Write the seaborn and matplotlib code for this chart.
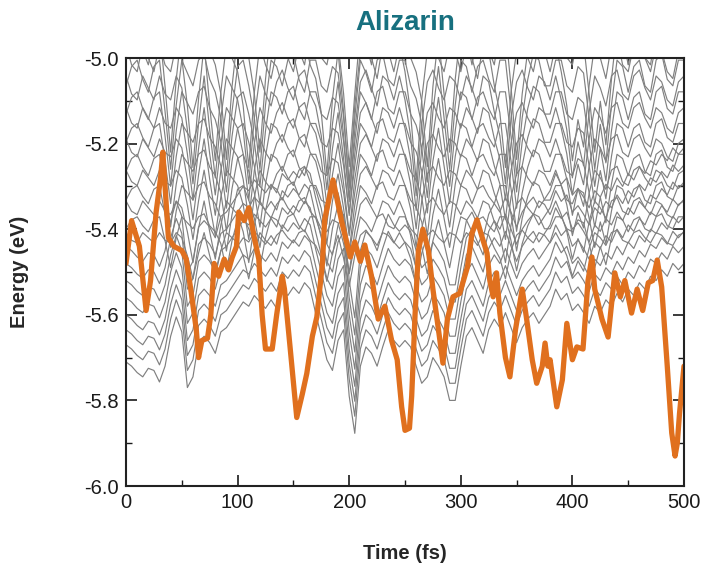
import numpy as np
import pandas as pd
import seaborn as sns
import matplotlib
matplotlib.use("Agg")
import matplotlib.pyplot as plt
from matplotlib.ticker import MultipleLocator, FormatStrFormatter

# lowest gray state, read every 5 fs
t_grid = np.arange(0, 505, 5)
low_state = [-5.71, -5.72, -5.735, -5.745, -5.725, -5.73, -5.757, -5.72, -5.65, -5.605,
             -5.64, -5.77, -5.745, -5.665, -5.65, -5.665, -5.69, -5.64, -5.63, -5.61,
             -5.59, -5.57, -5.58, -5.555, -5.57, -5.585, -5.565, -5.585, -5.54, -5.555,
             -5.535, -5.55, -5.525, -5.54, -5.597, -5.65, -5.705, -5.73, -5.66, -5.635,
             -5.79, -5.877, -5.72, -5.675, -5.69, -5.72, -5.675, -5.635, -5.66, -5.675,
             -5.66, -5.675, -5.72, -5.76, -5.745, -5.70, -5.72, -5.745, -5.80, -5.80,
             -5.72, -5.65, -5.63, -5.66, -5.69, -5.635, -5.61, -5.63, -5.595, -5.63,
             -5.665, -5.63, -5.61, -5.595, -5.62, -5.60, -5.58, -5.54, -5.565, -5.55,
             -5.59, -5.575, -5.595, -5.62, -5.58, -5.595, -5.565, -5.58, -5.55, -5.57,
             -5.54, -5.555, -5.525, -5.54, -5.51, -5.52, -5.495, -5.51, -5.48, -5.495,
             -5.48]
low_offsets = [0.0, 0.04, 0.075, 0.11, 0.15, 0.19, 0.23, 0.27]

# upper states: two shapes read every 5 fs (deviation from level)
high_a = [0.02, -0.01, -0.02, 0.02, 0.0, -0.02, 0.02, -0.01, -0.02, 0.02,
          0.0, -0.07, -0.16, -0.06, 0.02, -0.07, -0.15, -0.05, 0.02, 0.0,
          -0.02, -0.07, -0.16, -0.05, 0.02, -0.01, -0.03, 0.01, 0.03, 0.0,
          -0.02, 0.02, 0.03, -0.01, -0.03, -0.08, -0.17, -0.06, 0.01, -0.08,
          -0.19, -0.07, 0.01, 0.03, 0.0, -0.03, 0.02, 0.01, -0.02, 0.02,
          -0.02, -0.08, -0.18, -0.06, 0.01, 0.03, 0.0, -0.02, 0.02, 0.01,
          -0.02, 0.02, 0.0, -0.03, 0.02, 0.01, -0.04, -0.08, -0.16, -0.05,
          0.01, 0.03, 0.0, -0.02, 0.02, 0.01, -0.02, 0.02, -0.02, -0.07,
          -0.15, -0.09, -0.13, -0.04, 0.02, 0.0, -0.03, 0.02, 0.03, -0.01,
          -0.02, 0.02, 0.03, 0.0, -0.02, 0.02, 0.01, -0.02, -0.03, 0.01,
          0.02]
high_b = [-0.02, 0.01, 0.02, -0.01, -0.03, 0.01, 0.02, -0.06, -0.15, -0.05,
          0.02, 0.0, -0.02, 0.02, 0.03, -0.01, -0.03, -0.07, -0.16, -0.06,
          0.01, 0.02, -0.02, -0.07, -0.15, -0.05, 0.02, 0.01, -0.02, 0.02,
          0.03, -0.01, -0.03, 0.02, 0.02, -0.02, -0.03, 0.01, 0.0, -0.07,
          -0.17, -0.07, 0.02, 0.0, -0.03, 0.02, 0.03, -0.01, -0.02, 0.02,
          0.02, -0.02, -0.04, -0.08, -0.17, -0.06, 0.01, -0.07, -0.15, -0.05,
          0.02, 0.01, -0.03, 0.01, 0.02, -0.01, -0.03, 0.02, 0.02, -0.06,
          -0.16, -0.07, -0.01, 0.03, 0.02, -0.02, -0.02, 0.02, 0.02, -0.02,
          -0.03, 0.01, 0.0, -0.07, -0.15, -0.08, -0.14, -0.05, 0.02, 0.01,
          -0.03, 0.01, 0.02, -0.02, -0.03, 0.02, 0.03, -0.01, -0.02, 0.02,
          0.02]
high_levels = [-5.42, -5.385, -5.35, -5.315, -5.28, -5.245, -5.21, -5.175,
               -5.14, -5.105, -5.07, -5.035, -5.00, -4.965]
high_amps = [0.6, 0.7, 0.8, 0.85, 0.9, 1.0, 1.05, 1.1, 1.2, 1.3, 1.4, 1.5, 1.6, 1.7]

# orange (photoexcited) state
orange_t = [0, 1, 5, 12, 18, 22, 27, 31, 33, 38, 43, 50, 54, 58, 63, 65, 68, 73, 76, 79,
            83, 88, 92, 95, 99, 101, 106, 110, 115, 119, 122, 125, 131, 135, 140, 142, 147, 153, 158, 162,
            167, 171, 176, 178, 185.5, 193.5, 201, 205, 210, 214, 220, 226, 232, 238, 243, 247, 250, 254, 256, 259,
            262, 266, 271, 275, 280, 284, 288, 293, 299, 306, 310, 314.5, 319, 323.5, 326, 329, 332, 335, 340, 344,
            349, 355, 359, 364, 368, 373, 375.5, 378, 380, 386, 391, 395, 400, 404, 409.5, 414, 417.5, 420, 426.5, 432,
            438, 443, 447, 453, 458, 463, 468, 472, 476, 480, 485, 489, 492, 494, 496, 500]
orange_e = [-5.48, -5.46, -5.38, -5.44, -5.59, -5.52, -5.36, -5.28, -5.22, -5.42, -5.44, -5.45, -5.47, -5.54, -5.635, -5.70, -5.66, -5.655, -5.60, -5.48,
            -5.51, -5.47, -5.495, -5.467, -5.44, -5.36, -5.38, -5.35, -5.42, -5.47, -5.60, -5.68, -5.68, -5.60, -5.51, -5.54, -5.675, -5.84, -5.785, -5.737,
            -5.65, -5.605, -5.48, -5.378, -5.285, -5.385, -5.465, -5.43, -5.475, -5.437, -5.51, -5.61, -5.58, -5.66, -5.705, -5.815, -5.87, -5.865, -5.79, -5.60,
            -5.45, -5.40, -5.45, -5.54, -5.635, -5.713, -5.61, -5.558, -5.55, -5.488, -5.41, -5.378, -5.418, -5.456, -5.52, -5.558, -5.502, -5.596, -5.70, -5.745,
            -5.635, -5.54, -5.61, -5.705, -5.76, -5.72, -5.666, -5.72, -5.705, -5.815, -5.752, -5.62, -5.705, -5.675, -5.68, -5.52, -5.465, -5.54, -5.61, -5.652,
            -5.502, -5.558, -5.52, -5.596, -5.54, -5.59, -5.525, -5.52, -5.472, -5.535, -5.72, -5.876, -5.93, -5.90, -5.83, -5.72]

frames = []
for k, off in enumerate(low_offsets):
    frames.append(pd.DataFrame({"t": t_grid, "E": np.array(low_state) + off, "state": f"l{k}"}))
for k, (lev, amp) in enumerate(zip(high_levels, high_amps)):
    shape = high_a if k % 2 == 0 else high_b
    frames.append(pd.DataFrame({"t": t_grid, "E": lev + amp * np.array(shape), "state": f"h{k}"}))
gray = pd.concat(frames, ignore_index=True)
orange = pd.DataFrame({"t": orange_t, "E": orange_e})

sns.set_style("ticks")
plt.rcParams["font.family"] = ["Liberation Sans", "DejaVu Sans"]

fig = plt.figure(figsize=(7.04, 5.66), dpi=100)
ax = fig.add_axes([126 / 704, 1 - 486 / 566, 558 / 704, 428 / 566])

sns.lineplot(data=gray, x="t", y="E", units="state", estimator=None,
             color="#808080", lw=0.85, ax=ax, legend=False)
sns.lineplot(data=orange, x="t", y="E", color="#e0701e", lw=3.8, ax=ax,
             solid_joinstyle="round", solid_capstyle="round")

ax.set_xlim(0, 500)
ax.set_ylim(-6.0, -5.0)
ax.xaxis.set_major_locator(MultipleLocator(100))
ax.xaxis.set_minor_locator(MultipleLocator(50))
ax.yaxis.set_major_locator(MultipleLocator(0.2))
ax.yaxis.set_minor_locator(MultipleLocator(0.1))
ax.yaxis.set_major_formatter(FormatStrFormatter("%.1f"))
ax.tick_params(which="both", direction="in", top=True, right=True, colors="#1a1a1a", labelsize=14.5)
ax.tick_params(which="major", length=8, width=1.2, pad=5)
ax.tick_params(which="minor", length=4, width=1.0)
for s in ax.spines.values():
    s.set_linewidth(1.5)
    s.set_color("#222222")

ax.set_xlabel("Time (fs)", fontsize=14.5, fontweight="bold", labelpad=23)
ax.set_ylabel("Energy (eV)", fontsize=14.5, fontweight="bold", labelpad=40)
ax.set_title("Alizarin", fontsize=20, fontweight="bold", color="#17707f", pad=20)

fig.savefig("out.png", dpi=100)
